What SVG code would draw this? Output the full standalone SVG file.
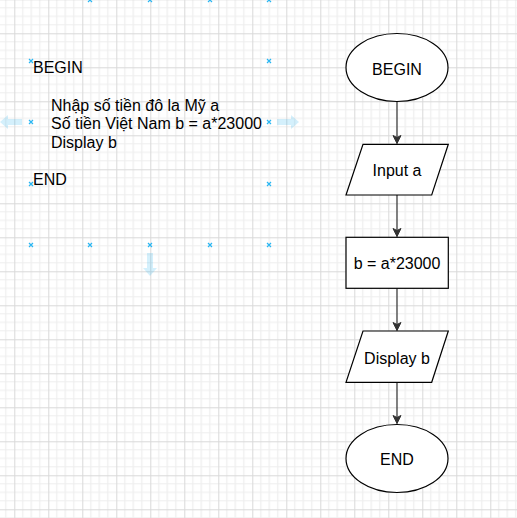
<svg xmlns="http://www.w3.org/2000/svg" width="517" height="518" viewBox="0 0 517 518">
<style>
.t{font-family:"Liberation Sans",Arial,sans-serif;font-size:16px;fill:#000}
.c{text-anchor:middle}
.s{fill:#fff;stroke:#000;stroke-width:1.2}
.e{stroke:#333;stroke-width:1.2;fill:none}
.x{stroke:#29b6f2;stroke-width:1.2}
.h{fill:#29b6f2;opacity:0.2}
</style>
<defs>
<pattern id="g" patternUnits="userSpaceOnUse" x="14.3" y="-0.7" width="34" height="34">
<rect width="34" height="34" fill="#fff"/>
<path d="M8.5 0V34M17 0V34M25.5 0V34M0 8.5H34M0 17H34M0 25.5H34" stroke="#eeeeee" stroke-width="1.2"/>
<path d="M0.5 0V34M0 0.5H34" stroke="#d9d9d9" stroke-width="1"/>
</pattern>
<marker id="a" markerWidth="10" markerHeight="10" refX="9" refY="5" orient="auto" markerUnits="userSpaceOnUse">
<path d="M1 1L9 5L1 9L3 5Z" fill="#333" stroke="#333"/>
</marker>
</defs>
<rect width="517" height="518" fill="url(#g)"/>
<g id="pseudocode">
<text class="t" x="33" y="73">BEGIN</text>
<text class="t" x="51" y="111">Nhập số tiền đô la Mỹ a</text>
<text class="t" x="51" y="129.4">Số tiền Việt Nam b = a*23000</text>
<text class="t" x="51" y="147.8">Display b</text>
<text class="t" x="33" y="184.5">END</text>
</g>
<g id="selection-handles">
<path class="x" d="M29 59l4 4M33 59l-4 4M88 -2l4 4M92 -2l-4 4M148 -2l4 4M152 -2l-4 4M208 -2l4 4M212 -2l-4 4M267 -2l4 4M271 -2l-4 4M267 59l4 4M271 59l-4 4M29 120l4 4M33 120l-4 4M267 120l4 4M271 120l-4 4M29 182l4 4M33 182l-4 4M267 182l4 4M271 182l-4 4M29 243l4 4M33 243l-4 4M88 243l4 4M92 243l-4 4M148 243l4 4M152 243l-4 4M208 243l4 4M212 243l-4 4M267 243l4 4M271 243l-4 4"/>
<path class="h" d="M0 122l8-7v4h14v6H8v4Z"/>
<path class="h" d="M299 122l-8-7v4H277v6h14v4Z"/>
<path class="h" d="M150 276l-7-8h4V253h6v15h4Z"/>
</g>
<g id="connectors">
<path class="e" d="M397 101.5V143.5" marker-end="url(#a)"/>
<path class="e" d="M397 195V236.5" marker-end="url(#a)"/>
<path class="e" d="M397 288.5V330.5" marker-end="url(#a)"/>
<path class="e" d="M397 382.5V423.5" marker-end="url(#a)"/>
</g>
<g id="begin">
<ellipse class="s" cx="397" cy="67.5" rx="51" ry="34"/>
<text class="t c" x="397" y="74.5">BEGIN</text>
</g>
<g id="input">
<path class="s" d="M363 144.3H448.3L431.7 195H346Z"/>
<text class="t c" x="397" y="176">Input a</text>
</g>
<g id="process">
<rect class="s" x="346" y="237.3" width="102.3" height="51"/>
<text class="t c" x="397" y="269.3">b = a*23000</text>
</g>
<g id="display">
<path class="s" d="M363 331H448.3L431.7 382.3H346Z"/>
<text class="t c" x="397" y="363.5">Display b</text>
</g>
<g id="end">
<ellipse class="s" cx="397" cy="458.5" rx="51" ry="34"/>
<text class="t c" x="397" y="465">END</text>
</g>
</svg>
